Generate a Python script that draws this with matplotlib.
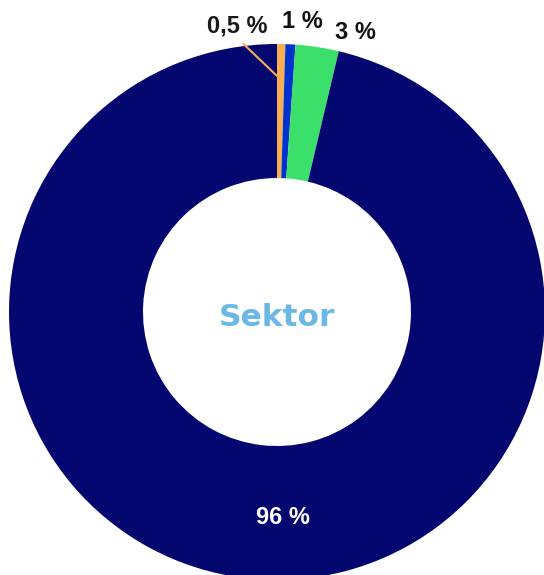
import matplotlib.pyplot as plt

# Sector shares (percent)
sectors = ["A", "B", "C", "D"]
shares = [0.5, 0.6, 2.6, 96.3]
share_labels = ["0,5 %", "1 %", "3 %", "96 %"]
colors = ["#F9AE52", "#0033CC", "#3BE06A", "#03076F"]

plt.rcParams['font.family'] = ['Liberation Sans', 'DejaVu Sans']

fig = plt.figure(figsize=(5.44, 5.75), dpi=100)
# donut is centred at (277, 312) px with radius 268 px, clipped at bottom/right
ax = fig.add_axes([9 / 544, -5 / 575, 536 / 544, 536 / 575])
ax.pie(shares, colors=colors, startangle=90, counterclock=False, radius=1,
       wedgeprops=dict(width=0.5, linewidth=0))
ax.set_xlim(-1, 1)
ax.set_ylim(-1, 1)
ax.set_aspect("equal")
ax.axis("off")

# label positions (data coords)
label_pos = [(-0.149, 1.068), (0.093, 1.083), (0.291, 1.042), (0.022, -0.766)]
label_cols = ["#1a1a1a", "#111111", "#111111", "white"]
for txt, (x, y), c in zip(share_labels, label_pos, label_cols):
    ax.text(x, y, txt, ha="center", va="center", fontsize=17,
            fontweight="bold", color=c, clip_on=False)

# leader line for the small orange slice
ax.plot([0.004, -0.125], [0.877, 1.0], color=colors[0], lw=1.5, clip_on=False)

ax.text(0, -0.022, "Sektor", ha="center", va="center", fontsize=22.5,
        fontweight="bold", color="#6BB8E6", family="DejaVu Sans")

fig.savefig("out.png", dpi=100)
